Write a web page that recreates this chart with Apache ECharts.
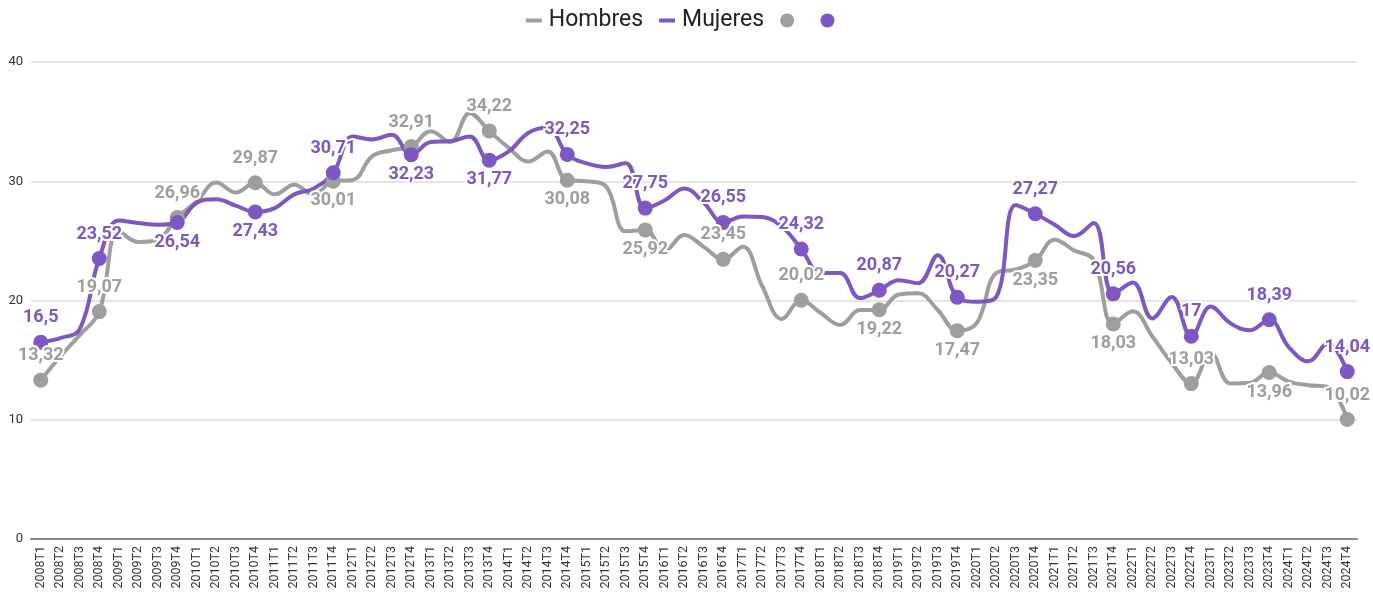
<!DOCTYPE html>
<html>
<head>
<meta charset="utf-8">
<script src="https://cdn.jsdelivr.net/npm/echarts@6/dist/echarts.min.js"></script>
<style>
  html, body { margin: 0; padding: 0; background: #fff; }
  #chart { width: 1373px; height: 593px; }
</style>
</head>
<body>
<div id="chart"></div>
<script>
// categories: 2008T1 .. 2024T4
var categories = [];
for (var y = 2008; y <= 2024; y++) {
    for (var q = 1; q <= 4; q++) categories.push(y + 'T' + q);
}

var hombres = [
    13.32, 15.3, 17.1, 19.07,
    25.8, 24.9, 25.1, 26.96,
    28.3, 29.9, 29.05, 29.87,
    28.9, 29.7, 28.85, 30.01,
    30.1, 32.1, 32.6, 32.91,
    34.2, 33.3, 35.7, 34.22,
    32.8, 31.65, 32.5, 30.08,
    30.0, 29.55, 25.8, 25.92,
    24.2, 25.5, 24.5, 23.45,
    24.5, 21.2, 18.45, 20.02,
    18.95, 17.95, 19.2, 19.22,
    20.5, 20.6, 19.2, 17.47,
    18.1, 22.3, 22.6, 23.35,
    25.1, 24.2, 23.4, 18.03,
    19.1, 17.0, 14.75, 13.03,
    15.6, 13.05, 13.1, 13.96,
    13.2, 12.9, 12.75, 10.02
];

var mujeres = [
    16.5, 16.85, 17.6, 23.52,
    26.7, 26.5, 26.35, 26.54,
    28.2, 28.5, 27.95, 27.43,
    27.75, 28.9, 29.4, 30.71,
    33.75, 33.5, 33.9, 32.23,
    33.3, 33.35, 33.75, 31.77,
    32.5, 34.05, 34.5, 32.25,
    31.5, 31.2, 31.5, 27.75,
    28.4, 29.4, 28.2, 26.55,
    27.05, 27.0, 26.2, 24.32,
    22.3, 22.3, 20.2, 20.87,
    21.7, 21.45, 23.8, 20.27,
    19.9, 20.3, 28.0, 27.27,
    26.35, 25.4, 26.5, 20.56,
    21.5, 18.5, 20.3, 17,
    19.5, 18.1, 17.5, 18.39,
    16.1, 14.9, 16.4, 14.04
];

// highlighted points (2008T1 and every T4)
var pointCats = ['2008T1', '2008T4', '2009T4', '2010T4', '2011T4', '2012T4', '2013T4', '2014T4', '2015T4',
    '2016T4', '2017T4', '2018T4', '2019T4', '2020T4', '2021T4', '2022T4', '2023T4', '2024T4'];
var hombresPts = [13.32, 19.07, 26.96, 29.87, 30.01, 32.91, 34.22, 30.08, 25.92,
    23.45, 20.02, 19.22, 17.47, 23.35, 18.03, 13.03, 13.96, 10.02];
var mujeresPts = [16.5, 23.52, 26.54, 27.43, 30.71, 32.23, 31.77, 32.25, 27.75,
    26.55, 24.32, 20.87, 20.27, 27.27, 20.56, 17, 18.39, 14.04];

// points whose label sits under the dot
var hombresBelow = ['2011T4', '2014T4', '2015T4', '2018T4', '2019T4', '2020T4', '2021T4', '2023T4'];
var mujeresBelow = ['2009T4', '2010T4', '2012T4', '2013T4'];

var gray = '#9e9e9e';
var purple = '#7e57c2';

function fmt(v) {
    return String(v).replace('.', ',');
}

function pointSeries(name, vals, below, color) {
    var data = categories.map(function() { return null; });
    pointCats.forEach(function(c, i) {
        var idx = categories.indexOf(c);
        var under = below.indexOf(c) >= 0;
        data[idx] = {
            value: vals[i],
            label: { position: under ? 'bottom' : 'top', distance: under ? 3 : 8 }
        };
    });
    return {
        name: name,
        type: 'scatter',
        data: data,
        symbolSize: 15,
        itemStyle: { color: color, opacity: 1 },
        z: 5,
        label: {
            show: true,
            color: color,
            fontSize: 18,
            fontWeight: 'bold',
            fontFamily: 'Roboto',
            textBorderColor: '#fff',
            textBorderWidth: 4,
            formatter: function(p) { return fmt(p.value); }
        }
    };
}

var chart = echarts.init(document.getElementById('chart'));
chart.setOption({
    animation: false,
    backgroundColor: '#fff',
    legend: {
        top: 4,
        left: 'center',
        itemGap: 16,
        itemWidth: 16,
        itemHeight: 14,
        textStyle: { fontSize: 23, color: '#222', fontFamily: 'Roboto', padding: [0, 0, 0, 2] },
        data: [
            { name: 'Hombres', icon: 'path://M0,5 L16,5 L16,9 L0,9 Z' },
            { name: 'Mujeres', icon: 'path://M0,5 L16,5 L16,9 L0,9 Z' },
            { name: '\u200a', icon: 'circle' },
            { name: '\u200a\u200a', icon: 'circle' }
        ]
    },
    grid: { left: 31, right: 16, top: 62, bottom: 54, containLabel: false },
    xAxis: {
        type: 'category',
        data: categories,
        boundaryGap: true,
        axisLine: { lineStyle: { color: '#888', width: 2 } },
        axisTick: { show: false },
        axisLabel: {
            rotate: 90,
            interval: 0,
            fontSize: 12.5,
            color: '#333',
            fontFamily: 'Roboto',
            margin: 7
        }
    },
    yAxis: {
        type: 'value',
        min: 0,
        max: 40,
        interval: 10,
        axisLine: { show: false },
        axisTick: { show: false },
        splitLine: { lineStyle: { color: '#ddd', width: 1.5 } },
        axisLabel: { fontSize: 13, color: '#333', fontFamily: 'Roboto', margin: 8 }
    },
    series: [
        {
            name: 'Hombres',
            type: 'line',
            data: hombres,
            smooth: 0.4,
            showSymbol: false,
            lineStyle: { width: 4, color: gray },
            itemStyle: { color: gray },
            z: 2
        },
        {
            name: 'Mujeres',
            type: 'line',
            data: mujeres,
            smooth: 0.4,
            showSymbol: false,
            lineStyle: { width: 4, color: purple },
            itemStyle: { color: purple },
            z: 3
        },
        pointSeries('\u200a', hombresPts, hombresBelow, gray),
        pointSeries('\u200a\u200a', mujeresPts, mujeresBelow, purple)
    ]
});
</script>
</body>
</html>
